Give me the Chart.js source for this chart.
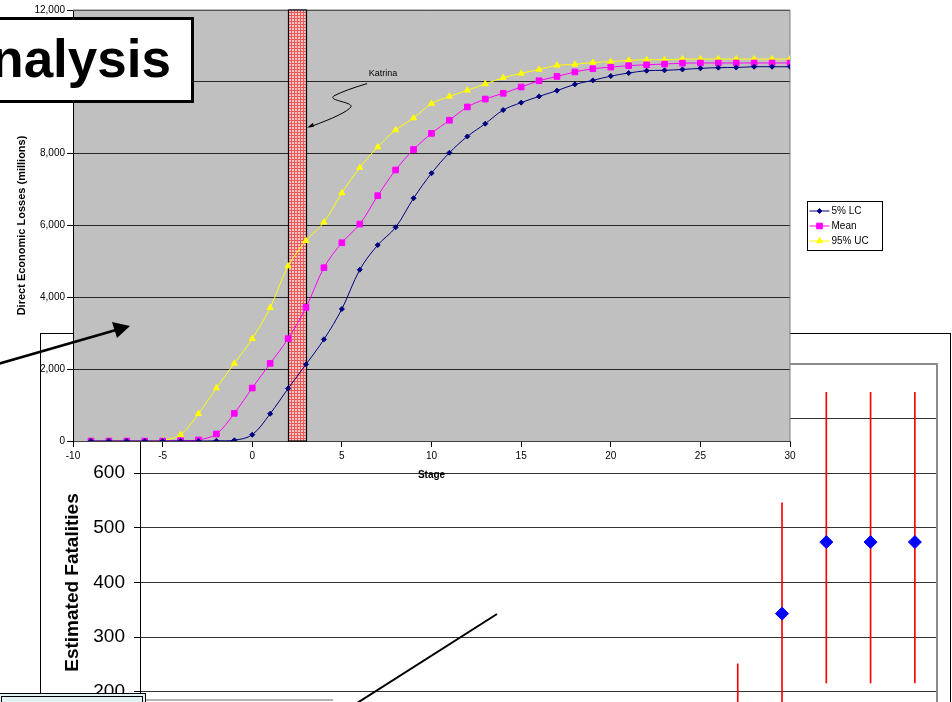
<!DOCTYPE html>
<html>
<head>
<meta charset="utf-8">
<script src="https://cdn.jsdelivr.net/npm/chart.js@4.4.0/dist/chart.umd.min.js"></script>
<style>
html, body { margin: 0; padding: 0; background: #fff; overflow: hidden; }
#stage { position: relative; width: 952px; height: 702px; overflow: hidden; font-family: Arial, 'Liberation Sans', sans-serif; }
#frame2 { position: absolute; left: 40px; top: 333px; width: 911px; height: 420px; border: 1px solid #000; box-sizing: border-box; background: #fff; }
#c2 { position: absolute; left: 40px; top: 333px; }
#c1 { position: absolute; left: 0; top: 0; }
#title { position: absolute; left: -80px; top: 17px; width: 274px; height: 86px; border: 3px solid #000; box-sizing: border-box; background: #fff;
  font-weight: bold; font-size: 53px; line-height: 78px; text-align: right; padding-right: 20px; color: #000; white-space: nowrap; }
#note { position: absolute; left: -2px; top: 693px; width: 148px; height: 20px; border: 4px double #000; box-sizing: border-box; background: #e4f1f1; }
#ov { position: absolute; left: 0; top: 0; }
</style>
</head>
<body>
<div id="stage">
  <div id="frame2"></div>
  <canvas id="c2" width="910" height="520"></canvas>
  <canvas id="c1" width="900" height="491"></canvas>
  <div id="title">Analysis</div>
  <div id="note"></div>
  <svg id="ov" width="952" height="702">
    <line x1="-2" y1="364" x2="116" y2="330" stroke="#000" stroke-width="2.5"/>
    <polygon points="130,326 112,322 117,338" fill="#000"/>
    <line x1="354" y1="705" x2="497" y2="614" stroke="#000" stroke-width="2"/>
    <line x1="146" y1="700" x2="333" y2="700" stroke="#666" stroke-width="1"/>
  </svg>
</div>
<script>
// losses by stage (millions)
var stages = [-9,-8,-7,-6,-5,-4,-3,-2,-1,0,1,2,3,4,5,6,7,8,9,10,11,12,13,14,15,16,17,18,19,20,21,22,23,24,25,26,27,28,29,30];
var lc5 = [0,0,0,0,0,0,0,5,20,175,760,1460,2135,2830,3675,4770,5455,5950,6760,7455,8025,8480,8835,9215,9420,9595,9755,9930,10040,10160,10245,10310,10320,10345,10375,10395,10400,10420,10420,10420];
var meanLoss = [0,0,0,0,0,10,30,195,770,1475,2160,2850,3720,4825,5520,6040,6830,7545,8115,8565,8930,9300,9520,9680,9855,10030,10150,10275,10365,10410,10450,10475,10495,10520,10525,10525,10525,10525,10525,10525];
var uc95 = [0,0,0,0,20,175,760,1475,2160,2850,3710,4870,5575,6090,6905,7610,8185,8660,8990,9395,9595,9765,9940,10115,10235,10345,10460,10485,10540,10560,10600,10615,10615,10635,10635,10635,10635,10635,10635,10635];
var seriesNames = ['5% LC', 'Mean', '95% UC'];
var lossTicks = { min: 0, max: 12000, step: 2000 };
var stageTicks = { min: -10, max: 30, step: 5 };
var katrinaBand = [2, 3];
var katrinaNote = { text: 'Katrina', x: 7.3, y: 10230 };
var katrinaTip = { x: 3, y: 8720 };

// fatalities
var fatalCats = ['1','2','3','4','5','6','7','8','9','10','11','12','13','14','15','16','17','18'];
var fatalMean = [null,null,null,null,null,null,null,null,null,null,null,null,null,120,343,474,474,474];
var fatalLow = [null,null,null,null,null,null,null,null,null,null,null,null,null,30,140,216,216,216];
var fatalHigh = [null,null,null,null,null,null,null,null,null,null,null,null,null,251,546,748,748,748];

var FONT = "Arial, 'Liberation Sans', sans-serif";
Chart.defaults.font.family = FONT;
Chart.defaults.color = '#000';

function xy(vals) {
  return stages.map(function (s, i) { return { x: s, y: vals[i] }; });
}

function hatch() {
  var p = document.createElement('canvas');
  p.width = 3; p.height = 3;
  var g = p.getContext('2d');
  g.fillStyle = '#f7c4c4';
  g.fillRect(0, 0, 3, 3);
  g.fillStyle = '#e65a5a';
  g.fillRect(0, 0, 3, 1);
  g.fillRect(0, 0, 1, 3);
  return p;
}

var plotFrame = {
  id: 'plotFrame',
  beforeDraw: function (chart, args, opts) {
    var a = chart.chartArea, ctx = chart.ctx;
    ctx.save();
    ctx.fillStyle = opts.fill;
    ctx.fillRect(a.left, a.top, a.right - a.left, a.bottom - a.top);
    ctx.restore();
  },
  beforeDatasetsDraw: function (chart, args, opts) {
    var a = chart.chartArea, ctx = chart.ctx;
    ctx.save();
    ctx.strokeStyle = opts.border;
    ctx.lineWidth = opts.width;
    ctx.beginPath();
    ctx.moveTo(a.left, a.top);
    ctx.lineTo(a.right, a.top);
    ctx.lineTo(a.right, a.bottom);
    ctx.stroke();
    ctx.restore();
  }
};

var katrina = {
  id: 'katrina',
  beforeDatasetsDraw: function (chart) {
    var xs = chart.scales.x, a = chart.chartArea, ctx = chart.ctx;
    var x1 = Math.round(xs.getPixelForValue(katrinaBand[0])) + 0.5;
    var x2 = Math.round(xs.getPixelForValue(katrinaBand[1])) + 0.5;
    ctx.save();
    ctx.fillStyle = ctx.createPattern(hatch(), 'repeat');
    ctx.fillRect(x1, a.top, x2 - x1, a.bottom - a.top);
    ctx.strokeStyle = '#000';
    ctx.lineWidth = 1.2;
    ctx.strokeRect(x1, a.top, x2 - x1, a.bottom - a.top);
    ctx.restore();
  },
  afterDatasetsDraw: function (chart) {
    var xs = chart.scales.x, ys = chart.scales.y, ctx = chart.ctx;
    var lx = xs.getPixelForValue(katrinaNote.x), ly = ys.getPixelForValue(katrinaNote.y);
    var tx = xs.getPixelForValue(katrinaTip.x) + 1, ty = ys.getPixelForValue(katrinaTip.y);
    ctx.save();
    ctx.fillStyle = '#000';
    ctx.font = '9px ' + FONT;
    ctx.textAlign = 'center';
    ctx.textBaseline = 'middle';
    ctx.fillText(katrinaNote.text, lx, ly);
    ctx.strokeStyle = '#000';
    ctx.lineWidth = 1;
    ctx.beginPath();
    ctx.moveTo(lx - 16, ly + 10);
    ctx.quadraticCurveTo(tx + 39, ty - 38, tx + 27, ty - 32);
    ctx.bezierCurveTo(tx + 20, ty - 27, tx + 46, ty - 26, tx + 44, ty - 21);
    ctx.quadraticCurveTo(tx + 39, ty - 14, tx + 3, ty - 1);
    ctx.stroke();
    ctx.beginPath();
    ctx.moveTo(tx, ty);
    ctx.lineTo(tx + 6, ty - 5);
    ctx.lineTo(tx + 7, ty - 1);
    ctx.closePath();
    ctx.fill();
    ctx.restore();
  }
};

var boxLegend = {
  id: 'boxLegend',
  afterDraw: function (chart) {
    var ctx = chart.ctx;
    var bx = 807.5, by = 201.5, bw = 75, bh = 49;
    ctx.save();
    ctx.fillStyle = '#fff';
    ctx.fillRect(bx, by, bw, bh);
    ctx.strokeStyle = '#000';
    ctx.lineWidth = 1;
    ctx.strokeRect(bx, by, bw, bh);
    ctx.font = '10px ' + FONT;
    ctx.textBaseline = 'middle';
    chart.data.datasets.forEach(function (ds, i) {
      var y = by + 9.5 + i * 15;
      ctx.strokeStyle = ds.borderColor;
      ctx.beginPath();
      ctx.moveTo(bx + 2, y);
      ctx.lineTo(bx + 22, y);
      ctx.stroke();
      ctx.fillStyle = ds.borderColor;
      Chart.helpers.drawPoint(ctx, { pointStyle: ds.pointStyle, radius: ds.pointRadius, borderWidth: 1, rotation: 0 }, bx + 12, y);
      ctx.fillStyle = '#000';
      ctx.fillText(ds.label, bx + 24, y + 0.5);
    });
    ctx.restore();
  }
};

function lineSet(label, vals, color, style, r) {
  return {
    label: label, data: xy(vals), borderColor: color, backgroundColor: color,
    borderWidth: 1, tension: 0.35, pointStyle: style, pointRadius: r,
    pointBorderColor: color, pointBackgroundColor: color, pointBorderWidth: 1
  };
}

new Chart(document.getElementById('c1'), {
  type: 'line',
  data: {
    datasets: [
      lineSet(seriesNames[0], lc5, '#000080', 'rectRot', 2.5),
      lineSet(seriesNames[1], meanLoss, '#ff00ff', 'rect', 4),
      lineSet(seriesNames[2], uc95, '#ffff00', 'triangle', 3.5)
    ]
  },
  options: {
    responsive: false,
    animation: false,
    layout: { padding: { top: 10, right: 110, left: 0, bottom: 0 } },
    plugins: {
      legend: { display: false },
      tooltip: { enabled: false },
      plotFrame: { fill: '#c0c0c0', border: '#808080', width: 1 }
    },
    scales: {
      x: {
        type: 'linear', min: stageTicks.min, max: stageTicks.max,
        afterFit: function (s) { s.height = 50; },
        ticks: { stepSize: stageTicks.step, font: { size: 10 }, padding: 3, maxRotation: 0 },
        grid: { drawOnChartArea: false, tickLength: 6, color: '#000' },
        border: { color: '#404040' },
        title: { display: true, text: 'Stage', font: { size: 10, weight: 'bold' }, padding: { top: 0, bottom: 10 } }
      },
      y: {
        min: lossTicks.min, max: lossTicks.max,
        afterFit: function (s) { s.width = 73; },
        ticks: {
          stepSize: lossTicks.step, font: { size: 10 }, padding: 2,
          callback: function (v) { return v.toLocaleString('en-US'); }
        },
        grid: { color: '#262626', tickLength: 6, tickColor: '#000' },
        border: { color: '#000' },
        title: { display: true, text: 'Direct Economic Losses (millions)', font: { size: 11, weight: 'bold' }, padding: { top: 15, bottom: 0 } }
      }
    }
  },
  plugins: [plotFrame, katrina, boxLegend]
});

new Chart(document.getElementById('c2'), {
  data: {
    labels: fatalCats,
    datasets: [
      {
        type: 'line', label: 'Estimated', data: fatalMean, showLine: false, order: 0,
        pointStyle: 'rectRot', pointRadius: 6.5, pointBackgroundColor: '#0000ff',
        pointBorderColor: '#0000ff', pointBorderWidth: 1
      },
      {
        type: 'bar', label: 'Range', order: 1,
        data: fatalLow.map(function (lo, i) { return lo === null ? null : [lo, fatalHigh[i]]; }),
        backgroundColor: '#ff0000', barThickness: 1
      }
    ]
  },
  options: {
    responsive: false,
    animation: false,
    layout: { padding: { top: 31, right: 13, left: 0, bottom: 0 } },
    plugins: {
      legend: { display: false },
      tooltip: { enabled: false },
      plotFrame: { fill: '#fff', border: '#8c8c8c', width: 2 }
    },
    scales: {
      x: {
        type: 'category',
        afterFit: function (s) { s.height = 52; },
        grid: { display: false },
        border: { display: false },
        ticks: { font: { size: 16 } }
      },
      y: {
        min: 0, max: 800,
        afterFit: function (s) { s.width = 100; },
        ticks: { stepSize: 100, font: { size: 19 }, padding: 9 },
        grid: { color: '#333', tickLength: 6, tickColor: '#000' },
        border: { color: '#000' },
        title: { display: true, text: 'Estimated Fatalities', font: { size: 19, weight: 'bold' }, padding: { top: 21, bottom: 0 } }
      }
    }
  },
  plugins: [plotFrame]
});
</script>
</body>
</html>
